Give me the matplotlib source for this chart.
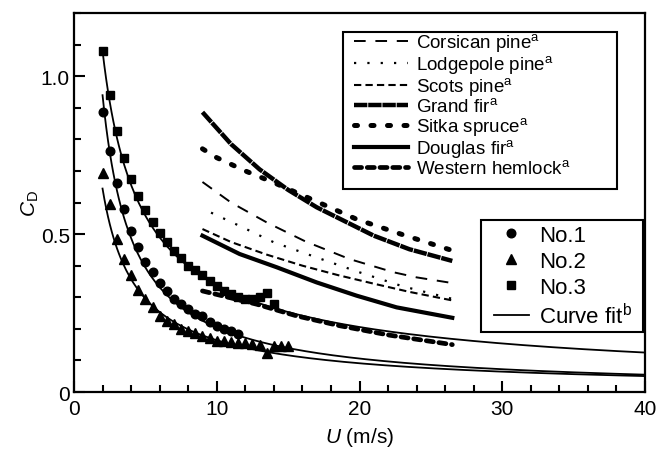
import numpy as np
import matplotlib
matplotlib.use("Agg")
import matplotlib.pyplot as plt
from matplotlib.patches import Rectangle
from matplotlib.lines import Line2D

plt.rcParams['font.family'] = ['Liberation Sans', 'DejaVu Sans']
plt.rcParams['mathtext.fontset'] = 'custom'
plt.rcParams['mathtext.rm'] = 'Liberation Sans'
plt.rcParams['mathtext.it'] = 'Liberation Sans:italic'

# measured drag coefficients, three samples
u_no1 = [2.0, 2.5, 3.0, 3.5, 4.0, 4.5, 5.0, 5.5, 6.0, 6.5, 7.0, 7.5, 8.0, 8.5,
         9.0, 9.5, 10.0, 10.5, 11.0, 11.5]
cd_no1 = [0.887, 0.764, 0.661, 0.579, 0.51, 0.458, 0.412, 0.379, 0.345, 0.321,
          0.296, 0.278, 0.263, 0.247, 0.24, 0.222, 0.21, 0.20, 0.192, 0.185]

u_no2 = [2.0, 2.5, 3.0, 3.5, 4.0, 4.5, 5.0, 5.5, 6.0, 6.5, 7.0, 7.5, 8.0, 8.5,
         9.0, 9.5, 10.0, 10.5, 11.0, 11.5, 12.0, 12.5, 13.0, 13.5, 14.0, 14.5, 15.0]
cd_no2 = [0.693, 0.595, 0.486, 0.421, 0.37, 0.324, 0.294, 0.268, 0.24, 0.226,
          0.215, 0.20, 0.194, 0.187, 0.178, 0.17, 0.163, 0.16, 0.158, 0.155,
          0.155, 0.152, 0.148, 0.125, 0.146, 0.147, 0.147]

u_no3 = [2.0, 2.5, 3.0, 3.5, 4.0, 4.5, 5.0, 5.5, 6.0, 6.5, 7.0, 7.5, 8.0, 8.5,
         9.0, 9.5, 10.0, 10.5, 11.0, 11.5, 12.0, 12.5, 13.0, 13.5, 14.0]
cd_no3 = [1.08, 0.94, 0.825, 0.74, 0.675, 0.62, 0.577, 0.537, 0.503, 0.474,
          0.447, 0.423, 0.40, 0.387, 0.37, 0.352, 0.335, 0.32, 0.31, 0.30,
          0.295, 0.293, 0.30, 0.312, 0.28]

# curve fit C_D = a * U^b for No.1, No.2, No.3
fit_a = [1.813, 1.161, 1.779]
fit_b = [-0.948, -0.85, -0.72]
fit_u_range = (2.0, 40.0)

# literature values for tree species (a)
corsican_u = [9.0, 11.0, 13.5, 16.2, 19.3, 22.4, 24.0, 26.5]
corsican_cd = [0.665, 0.60, 0.537, 0.477, 0.421, 0.379, 0.363, 0.345]
lodgepole_u = [9.6, 11.6, 14.0, 17.0, 20.0, 23.0, 26.5]
lodgepole_cd = [0.568, 0.526, 0.474, 0.426, 0.379, 0.335, 0.295]
scots_u = [9.0, 11.0, 13.5, 16.0, 18.5, 21.0, 23.5, 26.5]
scots_cd = [0.516, 0.475, 0.435, 0.40, 0.37, 0.343, 0.317, 0.29]
grand_u = [9.0, 11.0, 13.0, 15.0, 17.0, 19.0, 21.0, 23.5, 26.5]
grand_cd = [0.886, 0.785, 0.705, 0.64, 0.585, 0.54, 0.495, 0.452, 0.415]
sitka_u = [9.0, 10.0, 12.0, 14.0, 17.0, 19.8, 22.9, 26.5]
sitka_cd = [0.77, 0.742, 0.70, 0.663, 0.603, 0.547, 0.50, 0.448]
douglas_u = [9.0, 11.6, 14.2, 17.0, 19.8, 22.6, 26.5]
douglas_cd = [0.495, 0.437, 0.395, 0.347, 0.305, 0.268, 0.235]
western_u = [9.0, 12.8, 15.6, 18.6, 22.1, 26.5]
western_cd = [0.32, 0.278, 0.241, 0.21, 0.18, 0.15]

fig = plt.figure(figsize=(6.6, 4.52), dpi=100)
ax = fig.add_axes([0.1121, 0.1305, 0.8652, 0.8385])

# species lines
l_cor, = ax.plot(corsican_u, corsican_cd, color='k', lw=1.4, ls=(0, (6, 5)))
l_lod, = ax.plot(lodgepole_u, lodgepole_cd, color='k', lw=1.6, ls=(0, (1, 5)))
l_sco, = ax.plot(scots_u, scots_cd, color='k', lw=1.5, ls=(0, (3.5, 2.0)))
l_gra, = ax.plot(grand_u, grand_cd, color='k', lw=3.2, ls=(0, (3.0, 0.2)))
l_sit, = ax.plot(sitka_u, sitka_cd, color='k', lw=3.6, ls=(0, (0.6, 2.7)),
                 dash_capstyle='round')
l_dou, = ax.plot(douglas_u, douglas_cd, color='k', lw=3.0)
l_wes, = ax.plot(western_u, western_cd, color='k', lw=3.4, ls=(0, (1.5, 1.2)),
                 dash_capstyle='round')

# fitted curves
u_fit = np.linspace(fit_u_range[0], fit_u_range[1], 300)
for a, b in zip(fit_a, fit_b):
    ax.plot(u_fit, a * u_fit ** b, color='k', lw=1.3)

# measurements
p1, = ax.plot(u_no1, cd_no1, 'o', color='k', ms=6.2, ls='none')
p2, = ax.plot(u_no2, cd_no2, '^', color='k', ms=6.8, ls='none')
p3, = ax.plot(u_no3, cd_no3, 's', color='k', ms=5.8, ls='none')

ax.set_xlim(0, 40)
ax.set_ylim(0, 1.2)
ax.set_xticks([0, 10, 20, 30, 40])
ax.set_xticks(np.arange(0, 41, 2), minor=True)
ax.set_yticks([0, 0.5, 1.0])
ax.set_yticklabels(['0', '0.5', '1.0'])
ax.set_yticks(np.arange(0, 1.21, 0.1), minor=True)
ax.tick_params(which='both', direction='in', labelsize=15, width=1.5)
ax.tick_params(axis='x', pad=5)
ax.tick_params(axis='y', pad=3)
ax.tick_params(which='major', length=8)
ax.tick_params(which='minor', length=5)
for s in ax.spines.values():
    s.set_linewidth(1.6)

ax.set_xlabel('$U$ (m/s)', fontsize=15, labelpad=5)
ax.set_ylabel('$C_{\\rm D}$', fontsize=15, labelpad=0)

# legend of species
leg1 = ax.legend([l_cor, l_lod, l_sco, l_gra, l_sit, l_dou, l_wes],
                 ['Corsican pine$^{\\rm a}$', 'Lodgepole pine$^{\\rm a}$',
                  'Scots pine$^{\\rm a}$', 'Grand fir$^{\\rm a}$',
                  'Sitka spruce$^{\\rm a}$', 'Douglas fir$^{\\rm a}$',
                  'Western hemlock$^{\\rm a}$'],
                 loc='upper left', bbox_to_anchor=(0.49, 0.952), frameon=False,
                 fontsize=13.5, handlelength=2.9, handletextpad=0.4,
                 labelspacing=0.0, borderpad=0, borderaxespad=0)
ax.add_artist(leg1)
ax.add_patch(Rectangle((0.471, 0.536), 0.480, 0.414, transform=ax.transAxes,
                       fill=False, lw=1.5, ec='k', zorder=5))

fit_handle = Line2D([], [], color='k', lw=1.3)
leg2 = ax.legend([p1, p2, p3, fit_handle],
                 ['No.1', 'No.2', 'No.3', 'Curve fit$^{\\rm b}$'],
                 loc='upper left', bbox_to_anchor=(0.735, 0.44), frameon=False,
                 fontsize=16, handlelength=1.6, handletextpad=0.45,
                 labelspacing=0.22, borderpad=0, borderaxespad=0)
ax.add_patch(Rectangle((0.713, 0.158), 0.283, 0.296, transform=ax.transAxes,
                       fill=False, lw=1.5, ec='k', zorder=5))

fig.savefig('out.png', dpi=100)
